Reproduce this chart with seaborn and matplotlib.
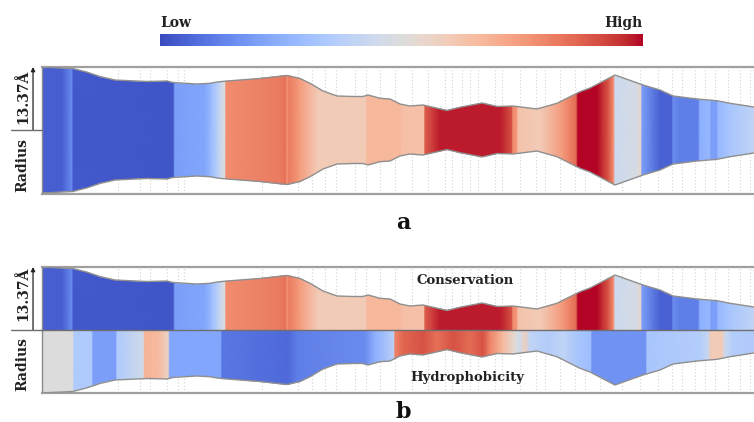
import numpy as np
import matplotlib
matplotlib.use("Agg")
import matplotlib.pyplot as plt
import matplotlib as mpl
from matplotlib.patches import Polygon
import seaborn as sns

# ---------------- data ----------------
# pore radius profile (position along pore axis, radius in Å)
rad_pos = [0, 6.2, 9.0, 11.6, 14.6, 21.0, 25.0, 26.2, 31.0, 33.6, 35.0, 37.0, 43.6, 49.0, 51.6,
           53.6, 56.2, 59.0, 62.2, 64.2, 65.2, 67.6, 69.6, 71.6, 73.6, 76.2, 81.0, 83.6, 88.0, 91.0,
           94.2, 99.0, 103.0, 107.6, 109.6, 114.6, 120.2, 123.6, 126.2, 131.0, 135.0, 137.6, 142.4]
radius = [13.37, 13.05, 12.27, 11.35, 10.61, 10.29, 10.40, 10.08, 9.76, 9.91, 10.19, 10.40, 10.93, 11.57, 10.93,
          9.91, 8.28, 7.22, 7.11, 7.11, 7.43, 6.73, 6.58, 5.52, 5.09, 5.31, 4.14, 4.82, 5.73, 4.99,
          5.09, 4.46, 5.67, 8.13, 8.91, 11.67, 9.55, 8.49, 7.22, 6.58, 6.22, 5.67, 4.88]

# conservation score along the pore (0 = low, 1 = high)
cons_pos = [0, 4.0, 6.1, 6.2, 26.2, 26.6, 32.6, 34.0, 35.6, 36.6, 36.8, 47.6, 48.8, 49.0, 49.4,
            51.6, 55.2, 64.8, 65.0, 71.6, 72.0, 76.4, 76.6, 79.6, 91.6, 93.2, 94.0, 94.2, 95.0, 95.2,
            99.6, 104.2, 106.8, 107.2, 111.0, 112.2, 113.2, 114.4, 114.6, 118.8, 119.8, 120.0, 123.6,
            126.0, 126.2, 127.6, 131.2, 131.6, 133.6, 133.8, 135.0, 135.2, 137.6, 142.4]
cons_val = [0.04, 0.04, 0.16, 0.03, 0.02, 0.2, 0.22, 0.3, 0.42, 0.5, 0.78, 0.82, 0.84, 0.76, 0.82,
            0.74, 0.6, 0.6, 0.67, 0.67, 0.64, 0.64, 0.88, 0.98, 0.98, 0.93, 0.9, 0.78, 0.76, 0.63,
            0.6, 0.75, 0.85, 1.0, 1.0, 0.95, 0.9, 0.76, 0.44, 0.47, 0.55, 0.2, 0.05,
            0.05, 0.15, 0.12, 0.12, 0.25, 0.28, 0.2, 0.2, 0.28, 0.33, 0.4]

# hydrophobicity along the pore (0 = low, 1 = high)
hyd_pos = [0, 6.2, 6.4, 10.0, 10.2, 14.8, 15.0, 20.2, 20.6, 23.2, 25.2, 25.6, 35.8, 36.0, 49.2,
           51.2, 64.6, 66.6, 70.4, 70.6, 72.2, 76.2, 79.0, 82.2, 85.6, 88.2, 89.6, 92.2, 94.6, 95.6,
           96.6, 97.6, 101.0, 104.2, 107.0, 109.8, 110.0, 120.8, 121.0, 131.6, 133.2, 133.8, 136.0,
           136.6, 138.2, 142.4]
hyd_val = [0.5, 0.5, 0.35, 0.35, 0.2, 0.2, 0.35, 0.45, 0.68, 0.66, 0.57, 0.22, 0.22, 0.1, 0.07,
           0.12, 0.15, 0.25, 0.38, 0.8, 0.86, 0.9, 0.84, 0.9, 0.85, 0.9, 0.8, 0.66, 0.52, 0.45,
           0.58, 0.4, 0.36, 0.4, 0.33, 0.3, 0.17, 0.17, 0.33, 0.36, 0.42, 0.6, 0.6,
           0.44, 0.36, 0.35]

grid_pos = [15.2, 19.6, 21.6, 25.0, 27.2, 28.4, 44.0, 51.2, 54.0, 56.6, 58.8, 62.6, 64.8, 67.6,
            70.6, 74.0, 77.2, 80.6, 82.0, 84.0, 85.6, 87.2, 90.6, 92.0, 95.6, 98.8, 100.6, 103.6,
            106.6, 108.6, 111.6, 116.0, 119.6, 123.2, 126.0, 128.0, 130.6, 132.6, 134.6, 137.2,
            139.6, 141.6]

max_radius_label = "13.37Å"
cbar_labels = ["Low", "High"]
panel_labels = ["a", "b"]
track_labels = ["Conservation", "Hydrophobicity"]

# ---------------- style ----------------
sns.set_theme(style="white")
plt.rcParams["font.family"] = ["DejaVu Serif", "DejaVu Sans"]
CMAP = "coolwarm"
RMAX = 13.37
XMAX = 142.4

fig = plt.figure(figsize=(7.54, 4.22), dpi=100)

W = 754.0
H = 422.0


def fig_axes(x0, y0, x1, y1):
    return fig.add_axes([x0 / W, 1 - y1 / H, (x1 - x0) / W, (y1 - y0) / H])


def band(ax, pos, vals, lo, hi):
    X = np.asarray(pos, float)
    Y = np.array([-RMAX * 1.2, RMAX * 1.2])
    C = np.tile(np.asarray(vals, float), (2, 1))
    mesh = ax.pcolormesh(X, Y, C, cmap=CMAP, vmin=0, vmax=1, shading="gouraud", zorder=2)
    rp = np.asarray(rad_pos, float)
    verts = np.concatenate([np.column_stack([rp, hi]), np.column_stack([rp[::-1], lo[::-1]])])
    poly = Polygon(verts, closed=True, facecolor="none", edgecolor="none")
    ax.add_patch(poly)
    mesh.set_clip_path(poly)


def style_axes(ax, ylo, yhi):
    ax.set_xlim(0, XMAX)
    ax.set_ylim(ylo, yhi)
    ax.set_xticks(grid_pos)
    ax.set_yticks([])
    ax.tick_params(axis="x", length=0, labelbottom=False)
    ax.grid(axis="x", color="#d2d2d2", linestyle=(0, (1, 2)), linewidth=0.8)
    ax.set_axisbelow(True)
    ax.spines["right"].set_visible(False)
    for s in ("top", "bottom"):
        ax.spines[s].set_color("#a0a0a0")
        ax.spines[s].set_linewidth(1.6)
    ax.spines["left"].set_color("#8a8a8a")
    ax.spines["left"].set_linewidth(1.0)
    ax.set_xlabel("")
    ax.set_ylabel("")


def left_labels(ax, ytext_hi, ytext_lo, full_line):
    tr = mpl.transforms.blended_transform_factory(ax.transAxes, ax.transData)
    ax.annotate("", xy=(-0.0126, RMAX), xytext=(-0.0126, 0), xycoords=tr, textcoords=tr,
                arrowprops=dict(arrowstyle="-|>", color="#222222", lw=0.9,
                                mutation_scale=6, shrinkA=0, shrinkB=0), annotation_clip=False)
    x_end = 1.0 if full_line else 0.0
    ax.plot([-0.044, x_end], [0, 0], transform=tr, color="#6f6f6f", lw=1.0,
            clip_on=False, zorder=5)
    ax.text(-0.027, ytext_hi, max_radius_label, transform=tr, rotation=90,
            ha="center", va="center", fontsize=10, fontweight="bold", color="#222222")
    ax.text(-0.028, ytext_lo, "Radius", transform=tr, rotation=90,
            ha="center", va="center", fontsize=10, fontweight="bold", color="#222222")


r = np.asarray(radius, float)
rp = np.asarray(rad_pos, float)

# ---------------- colour bar ----------------
cax = fig_axes(160, 34, 643, 46)
mpl.colorbar.ColorbarBase(cax, cmap=plt.get_cmap(CMAP), orientation="horizontal")
cax.set_xticks([])
cax.set_yticks([])
for s in cax.spines.values():
    s.set_visible(False)
fig.text(160 / W, 1 - 23 / H, cbar_labels[0], ha="left", va="center",
         fontsize=10, fontweight="bold", color="#222222")
fig.text(643 / W, 1 - 23 / H, cbar_labels[1], ha="right", va="center",
         fontsize=10, fontweight="bold", color="#222222")

# ---------------- panel a ----------------
ax1 = fig_axes(42, 67, 754, 194)
band(ax1, cons_pos, cons_val, -r, r)
sns.lineplot(x=rp, y=r, ax=ax1, color="#8f8f8f", lw=1.0, sort=False, estimator=None, zorder=3)
sns.lineplot(x=rp, y=-r, ax=ax1, color="#8f8f8f", lw=1.0, sort=False, estimator=None, zorder=3)
style_axes(ax1, -RMAX * 64 / 63, RMAX)
left_labels(ax1, 7.0, -7.4, full_line=False)
fig.text(403 / W, 1 - 229 / H, panel_labels[0], ha="center", va="baseline",
         fontsize=16, fontweight="bold", color="#111111")

# ---------------- panel b ----------------
ax2 = fig_axes(42, 267, 754, 393)
zero = np.zeros_like(r)
band(ax2, cons_pos, cons_val, zero, r)
band(ax2, hyd_pos, hyd_val, -r, zero)
sns.lineplot(x=rp, y=r, ax=ax2, color="#8f8f8f", lw=1.0, sort=False, estimator=None, zorder=3)
sns.lineplot(x=rp, y=-r, ax=ax2, color="#8f8f8f", lw=1.0, sort=False, estimator=None, zorder=3)
style_axes(ax2, -RMAX, RMAX)
left_labels(ax2, 7.6, -7.2, full_line=True)
ax2.text(0.594, 10.4, track_labels[0], transform=mpl.transforms.blended_transform_factory(ax2.transAxes, ax2.transData),
         ha="center", va="center", fontsize=9.5, fontweight="bold", color="#222222", zorder=6)
ax2.text(0.597, -10.0, track_labels[1], transform=mpl.transforms.blended_transform_factory(ax2.transAxes, ax2.transData),
         ha="center", va="center", fontsize=9.5, fontweight="bold", color="#222222", zorder=6)
fig.text(403 / W, 1 - 418 / H, panel_labels[1], ha="center", va="baseline",
         fontsize=16, fontweight="bold", color="#111111")

fig.savefig("out.png", dpi=100)
